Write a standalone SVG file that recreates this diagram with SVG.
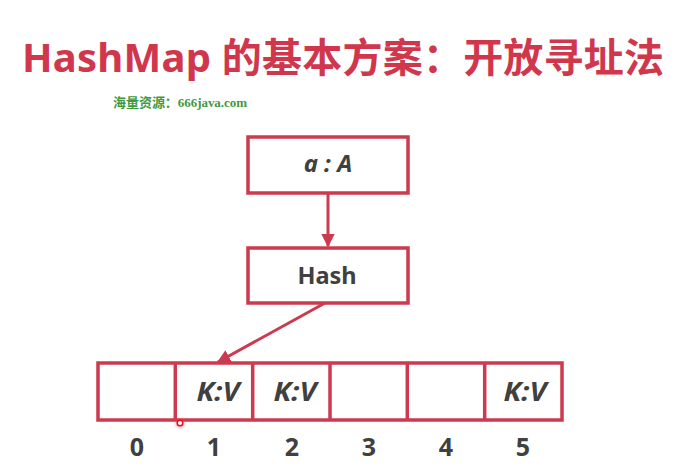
<svg xmlns="http://www.w3.org/2000/svg" width="698" height="469" viewBox="0 0 698 469">
  <defs>
    <style>
      .box { fill: #ffffff; stroke: #cc3a4f; stroke-width: 3.5; }
      .link { fill: none; stroke: #cc3a4f; stroke-width: 3; }
      .div { stroke: #cc3a4f; stroke-width: 3.5; }
      .lbl { font-family: "Noto Sans", "Open Sans", "Noto Sans CJK SC", sans-serif; font-weight: bold; fill: #404040; text-anchor: middle; }
      .it { font-style: italic; }
      .title { font-family: "Noto Sans", "Noto Sans CJK SC", sans-serif; font-weight: bold; fill: #d0374d; font-size: 40px; }
      .mark { font-family: "Liberation Serif", "Noto Sans CJK SC", serif; font-weight: bold; fill: #3f9a3f; font-size: 13px; }
    </style>
    <marker id="head" viewBox="0 0 10 10" refX="9" refY="5" markerWidth="4.5" markerHeight="4.5" orient="auto" markerUnits="strokeWidth">
      <path d="M0,0 L10,5 L0,10 Z" fill="#cc3a4f"/>
    </marker>
    <filter id="glow" x="-2" y="-2" width="5" height="5">
      <feGaussianBlur stdDeviation="1.6"/>
    </filter>
  </defs>

  <rect width="698" height="469" fill="#ffffff"/>

  <!-- heading -->
  <text class="title" x="22" y="72" textLength="642" lengthAdjust="spacing">HashMap 的基本方案：开放寻址法</text>
  <text class="mark" x="113" y="107" textLength="134" lengthAdjust="spacing">海量资源：666java.com</text>

  <!-- connectors -->
  <g id="connectors">
    <line class="link" x1="328" y1="193" x2="328" y2="246" marker-end="url(#head)"/>
    <line class="link" x1="325" y1="303" x2="218" y2="362" marker-end="url(#head)"/>
  </g>

  <!-- key node -->
  <g id="node-key">
    <rect class="box" x="248" y="137" width="160" height="56"/>
    <text class="lbl it" x="328" y="172" font-size="24">a : A</text>
  </g>

  <!-- hash function node -->
  <g id="node-hash">
    <rect class="box" x="248" y="248" width="160" height="55"/>
    <text class="lbl" x="327" y="284" font-size="23.5">Hash</text>
  </g>

  <!-- bucket array -->
  <g id="node-array">
    <rect class="box" x="98" y="363" width="464" height="57"/>
    <line class="div" x1="175.3" y1="363" x2="175.3" y2="420"/>
    <line class="div" x1="252.7" y1="363" x2="252.7" y2="420"/>
    <line class="div" x1="330" y1="363" x2="330" y2="420"/>
    <line class="div" x1="407.3" y1="363" x2="407.3" y2="420"/>
    <line class="div" x1="484.7" y1="363" x2="484.7" y2="420"/>
    <text class="lbl it" x="218" y="401" font-size="26" textLength="43" lengthAdjust="spacingAndGlyphs">K:V</text>
    <text class="lbl it" x="295" y="401" font-size="26" textLength="43" lengthAdjust="spacingAndGlyphs">K:V</text>
    <text class="lbl it" x="525" y="401" font-size="26" textLength="43" lengthAdjust="spacingAndGlyphs">K:V</text>
  </g>

  <!-- slot indices -->
  <g id="indices" class="lbl" font-size="25">
    <text x="137" y="456">0</text>
    <text x="214" y="456">1</text>
    <text x="292" y="456">2</text>
    <text x="369" y="456">3</text>
    <text x="446" y="456">4</text>
    <text x="523" y="456">5</text>
  </g>

  <!-- pointer dot -->
  <circle cx="180" cy="423" r="5" fill="#ff4040" opacity="0.35" filter="url(#glow)"/>
  <circle cx="180" cy="423" r="2.8" fill="#ffffff" stroke="#e01020" stroke-width="1.5"/>
</svg>
